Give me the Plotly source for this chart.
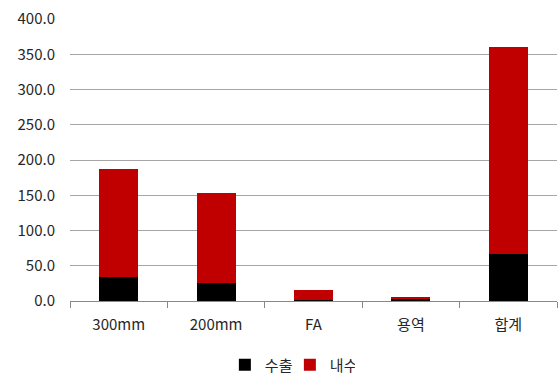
import plotly.graph_objects as go

categories = ["300mm", "200mm", "FA", "용역", "합계"]
export_vals = [33.5, 26.0, 2.0, 3.5, 66.0]
domestic_vals = [153.5, 127.0, 14.0, 0.8, 294.0]
y_ticks = [0, 50, 100, 150, 200, 250, 300, 350, 400]

font_family = "Noto Sans CJK KR, Open Sans, sans-serif"

fig = go.Figure()
fig.add_trace(go.Bar(x=categories, y=export_vals, name="수출",
                     marker=dict(color="#000000", line=dict(width=0))))
fig.add_trace(go.Bar(x=categories, y=domestic_vals, name="내수",
                     marker=dict(color="#C00000", line=dict(width=0))))

fig.update_layout(
    barmode="stack",
    bargap=0.6,
    width=559, height=374,
    margin=dict(l=70, r=2, t=19, b=73, autoexpand=False),
    plot_bgcolor="white", paper_bgcolor="white",
    font=dict(family=font_family, size=15, color="#262626"),
    showlegend=True,
    legend=dict(orientation="h", x=0.318, xanchor="left", y=-0.227, yanchor="middle",
                font=dict(size=15), itemwidth=30, entrywidth=20, entrywidthmode="pixels",
                traceorder="normal"),
    xaxis=dict(showline=True, linecolor="#888888", linewidth=1,
               ticks="outside", tickson="boundaries", ticklen=6, tickcolor="#888888",
               showgrid=False, tickfont=dict(size=15), ticklabelstandoff=10),
    yaxis=dict(range=[0, 400], tickvals=y_ticks,
               ticktext=[f"{v:.1f}" for v in y_ticks],
               showgrid=True, gridcolor="#A6A6A6", gridwidth=1,
               zeroline=False, showline=False, ticks="", ticklabelstandoff=14,
               tickfont=dict(size=15)),
)

fig.write_html("out.html")
